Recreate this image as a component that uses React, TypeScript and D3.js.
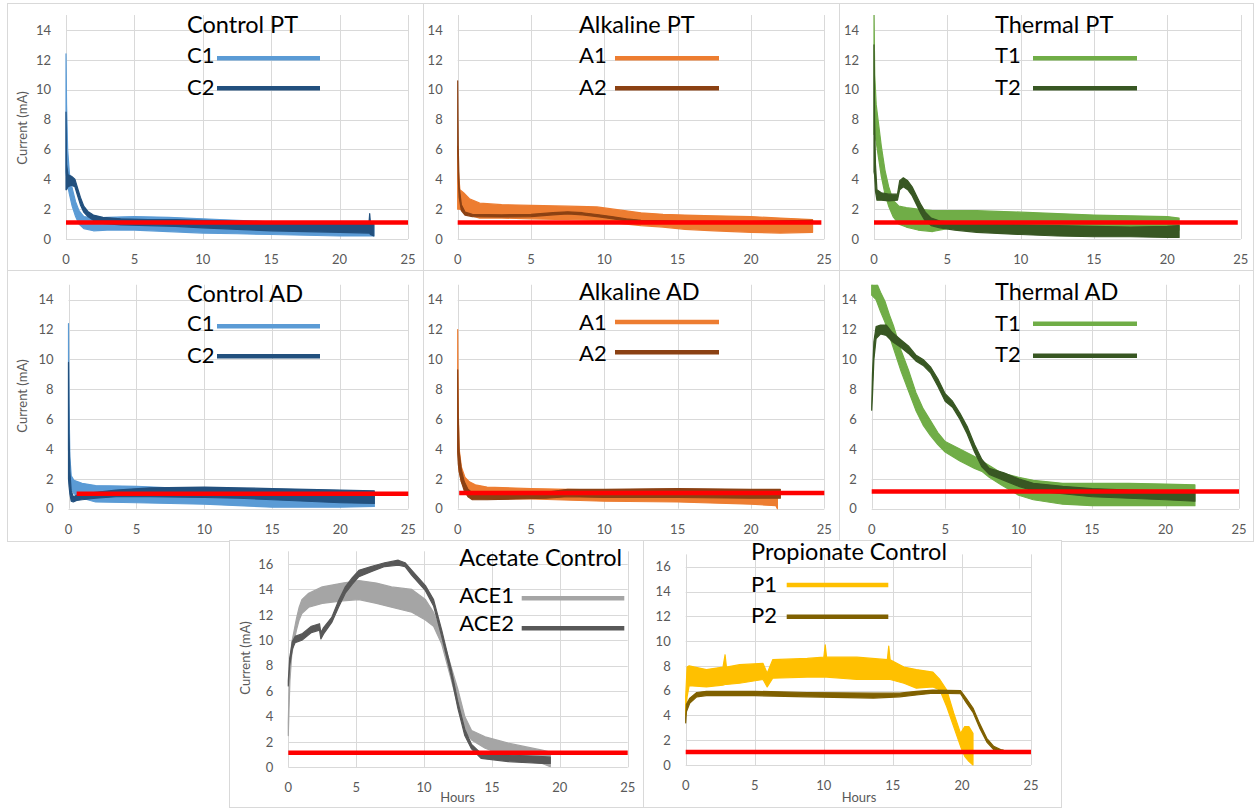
import React from 'react';
import * as d3 from 'd3';

// ---------- tick labels ----------
const hourTicks = [0, 5, 10, 15, 20, 25];
const currentTicks15 = [0, 2, 4, 6, 8, 10, 12, 14];
const currentTicks17 = [0, 2, 4, 6, 8, 10, 12, 14, 16];

// ---------- titles & legend ----------
const panelTitles = ['Control PT', 'Alkaline PT', 'Thermal PT', 'Control AD', 'Alkaline AD', 'Thermal AD', 'Acetate Control', 'Propionate  Control'];
const seriesNames = [['C1', 'C2'], ['A1', 'A2'], ['T1', 'T2'], ['C1', 'C2'], ['A1', 'A2'], ['T1', 'T2'], ['ACE1', 'ACE2'], ['P1', 'P2']];

// ---------- threshold (red line) ----------
const thresholdLevel = [1.1, 1.1, 1.1, 1.0, 1.05, 1.15, 1.15, 1.05];
const thresholdStart = [0, 0, 0, 0.6, 0.1, 0, 0, 0];
const thresholdEnd = [25, 24.8, 24.8, 25, 25, 25, 25, 25];

// ---------- series: [hours, low, high] envelope of the noisy current trace (mA) ----------
const controlPT_C1 = [[0, 4.5, 12.4], [0.04, 4.2, 9.0], [0.12, 3.6, 6.0], [0.25, 3.0, 4.4], [0.45, 2.2, 3.4], [0.7, 1.5, 2.5], [0.95, 1.0, 1.9], [1.3, 0.7, 1.5], [2, 0.55, 1.4], [3, 0.6, 1.45], [5, 0.6, 1.5], [7.5, 0.5, 1.45], [10, 0.4, 1.35], [12.5, 0.35, 1.25], [15, 0.3, 1.15], [17.5, 0.25, 1.05], [20, 0.2, 1.0], [22.5, 0.2, 0.95]];
const controlPT_C2 = [[0, 3.3, 8.5], [0.04, 3.3, 5.0], [0.15, 3.5, 4.3], [0.4, 3.6, 4.2], [0.65, 3.5, 4.0], [0.85, 2.9, 3.4], [1.05, 2.3, 2.8], [1.3, 1.8, 2.2], [1.6, 1.5, 1.85], [2.0, 1.25, 1.6], [2.7, 1.05, 1.45], [4, 0.95, 1.35], [6, 0.9, 1.3], [8, 0.85, 1.3], [10, 0.75, 1.25], [12.5, 0.65, 1.2], [15, 0.55, 1.15], [17.5, 0.5, 1.1], [20, 0.45, 1.1], [22.15, 0.4, 1.1], [22.2, 0.4, 1.7], [22.25, 0.3, 1.1], [22.5, 0.2, 1.0]];

const alkalinePT_A1 = [[0, 2.0, 6.2], [0.05, 2.0, 4.5], [0.15, 2.0, 3.3], [0.4, 1.9, 3.1], [0.8, 1.6, 2.7], [1.5, 1.4, 2.4], [3, 1.4, 2.3], [5, 1.35, 2.25], [7.5, 1.3, 2.2], [9.5, 1.25, 2.15], [11, 1.05, 1.95], [12.5, 0.9, 1.75], [14, 0.8, 1.65], [15.5, 0.65, 1.6], [17.5, 0.55, 1.55], [20, 0.45, 1.5], [22, 0.4, 1.4], [24.2, 0.45, 1.3]];
const alkalinePT_A2 = [[0, 6, 10.6], [0.04, 4.0, 6], [0.1, 2.8, 3.5], [0.25, 1.9, 2.3], [0.5, 1.6, 1.8], [1, 1.5, 1.65], [3, 1.48, 1.62], [5, 1.5, 1.65], [6.5, 1.62, 1.76], [7.5, 1.68, 1.82], [8.5, 1.62, 1.76], [9.5, 1.5, 1.64], [10.5, 1.36, 1.5], [11.5, 1.22, 1.35], [12.5, 1.13, 1.25], [15, 1.08, 1.2], [20, 1.05, 1.18], [24.2, 1.1, 1.25]];

const thermalPT_T1 = [[0, 7, 15], [0.05, 7, 11], [0.15, 6.5, 9], [0.3, 5.5, 7.8], [0.5, 4.2, 6.2], [0.75, 3.0, 4.6], [1.0, 2.2, 3.5], [1.3, 1.5, 2.6], [1.7, 1.0, 2.2], [2.2, 0.8, 2.1], [3, 0.6, 2.0], [4, 0.5, 1.9], [5, 0.7, 1.9], [7, 0.8, 1.9], [10, 0.8, 1.8], [12.5, 0.75, 1.7], [15, 0.7, 1.6], [17.5, 0.7, 1.55], [20, 0.65, 1.5], [20.8, 0.6, 1.4]];
const thermalPT_T2 = [[0, 4.5, 13], [0.04, 4.3, 8], [0.1, 3.2, 5], [0.2, 2.6, 3.3], [0.5, 2.6, 3.1], [1.0, 2.55, 3.0], [1.6, 2.6, 3.0], [1.75, 3.3, 3.9], [2.0, 3.5, 4.1], [2.3, 3.3, 3.9], [2.6, 2.9, 3.5], [2.9, 2.3, 2.9], [3.2, 1.7, 2.3], [3.5, 1.2, 1.8], [3.9, 0.9, 1.4], [4.5, 0.75, 1.2], [5.5, 0.6, 1.1], [7, 0.45, 1.05], [10, 0.3, 0.95], [12.5, 0.2, 0.9], [15, 0.15, 0.85], [17.5, 0.15, 0.8], [20, 0.1, 0.85], [20.8, 0.1, 0.9]];

const controlAD_C1 = [[0, 4, 12.4], [0.04, 3, 7], [0.1, 2.0, 3.5], [0.2, 1.3, 2.2], [0.4, 1.0, 1.9], [1, 0.7, 1.7], [2, 0.45, 1.55], [5, 0.4, 1.5], [7.5, 0.35, 1.4], [10, 0.3, 1.35], [12.5, 0.2, 1.2], [15, 0.1, 1.1], [17.5, 0.1, 1.05], [20, 0.1, 1.0], [22.5, 0.15, 0.95]];
const controlAD_C2 = [[0, 2, 9.8], [0.04, 1.5, 5], [0.1, 1.0, 2.5], [0.2, 0.5, 1.2], [0.35, 0.45, 0.8], [0.6, 0.55, 0.9], [1, 0.6, 1.0], [2, 0.7, 1.1], [3.5, 0.8, 1.25], [6, 0.8, 1.4], [10, 0.75, 1.45], [12.5, 0.7, 1.4], [15, 0.6, 1.35], [17.5, 0.5, 1.3], [20, 0.4, 1.25], [22.5, 0.35, 1.2]];

const alkalineAD_A1 = [[0, 4, 12], [0.04, 3.5, 6.5], [0.1, 2.5, 4], [0.25, 1.8, 2.8], [0.5, 1.3, 2.1], [0.8, 0.9, 1.8], [1.2, 0.7, 1.6], [2, 0.65, 1.45], [5, 0.65, 1.35], [10, 0.5, 1.25], [15, 0.45, 1.2], [20, 0.3, 1.1], [21.7, 0.2, 1.05], [21.8, 0, 0.9]];
const alkalineAD_A2 = [[0, 3.8, 9.3], [0.04, 3, 6], [0.1, 2.5, 3.8], [0.25, 1.8, 2.6], [0.45, 1.2, 1.8], [0.7, 0.8, 1.3], [1, 0.6, 1.05], [2, 0.6, 0.95], [4, 0.65, 1.0], [6, 0.7, 1.1], [7.5, 0.8, 1.3], [10, 0.75, 1.3], [15, 0.75, 1.35], [20, 0.7, 1.3], [22, 0.7, 1.3]];

const thermalAD_T1 = [[0, 14.3, 15.4], [0.3, 14, 15.2], [0.6, 13.2, 14.5], [0.9, 12.5, 13.9], [1.2, 11.6, 13.0], [1.5, 10.7, 12.2], [2, 9.2, 10.6], [2.5, 7.9, 9.3], [3, 6.6, 7.8], [3.5, 5.6, 6.7], [4, 4.9, 5.9], [4.5, 4.3, 5.1], [5, 3.8, 4.5], [6, 3.2, 4.0], [7, 2.7, 3.5], [7.5, 2.5, 3.2], [8, 2.1, 2.9], [8.8, 1.6, 2.4], [10, 0.9, 2.1], [11, 0.6, 1.9], [13, 0.3, 1.7], [15, 0.2, 1.7], [17.5, 0.2, 1.7], [20, 0.2, 1.65], [22, 0.2, 1.6]];
const thermalAD_T2 = [[0, 6.6, 6.8], [0.05, 7.5, 9], [0.15, 10.0, 11.2], [0.3, 11.4, 12.2], [0.6, 11.7, 12.3], [1.0, 11.6, 12.3], [1.4, 11.2, 11.8], [2, 10.8, 11.3], [2.5, 10.4, 10.9], [3, 9.9, 10.3], [3.5, 9.6, 10.0], [4, 9.1, 9.5], [4.5, 8.2, 8.7], [5, 7.2, 7.7], [5.5, 6.8, 7.2], [6, 6.0, 6.4], [6.5, 5.0, 5.5], [7, 3.8, 4.3], [7.5, 2.8, 3.3], [8, 2.3, 2.7], [9, 1.9, 2.4], [10, 1.5, 2.0], [11, 1.2, 1.7], [13, 1.0, 1.5], [15, 0.8, 1.35], [17.5, 0.7, 1.25], [20, 0.6, 1.2], [22, 0.5, 1.15]];

const acetate_ACE1 = [[0, 2.5, 3.5], [0.05, 4.5, 6], [0.12, 6.8, 8.0], [0.25, 8.8, 9.8], [0.4, 9.8, 10.6], [0.6, 10.8, 11.7], [0.8, 11.6, 12.6], [1.0, 12.1, 13.2], [1.5, 12.6, 13.7], [2.5, 12.9, 14.2], [4, 13.1, 14.5], [5.2, 13.2, 14.7], [6.5, 12.9, 14.5], [7.6, 12.6, 14.2], [9.1, 12.2, 14.0], [10.1, 11.6, 13.2], [10.7, 11.1, 12.2], [11.3, 9.7, 10.4], [12.0, 6.9, 7.9], [12.5, 4.8, 6.1], [13.0, 2.9, 4.0], [13.5, 2.15, 2.9], [14.5, 1.5, 2.4], [16.2, 0.8, 1.9], [18.7, 0.3, 1.35], [19.3, 0.05, 1.2]];
const acetate_ACE2 = [[0, 6.4, 6.8], [0.1, 8.0, 8.6], [0.3, 9.3, 9.9], [0.5, 9.8, 10.3], [1.0, 10.0, 10.5], [1.7, 10.6, 11.1], [2.3, 10.8, 11.3], [2.4, 10.1, 10.6], [2.6, 10.5, 11.0], [3.2, 11.4, 11.8], [3.7, 12.6, 13.1], [4.2, 13.7, 14.2], [4.7, 14.4, 14.9], [5.2, 15.0, 15.5], [6.1, 15.4, 15.8], [7.1, 15.8, 16.1], [8.1, 15.9, 16.3], [8.6, 15.8, 16.1], [9.1, 15.1, 15.5], [10.1, 13.9, 14.3], [10.7, 12.7, 13.2], [11.3, 10.3, 10.8], [12.0, 7.2, 7.7], [12.5, 4.6, 5.1], [13.0, 2.5, 3.0], [13.5, 1.45, 1.8], [14.2, 0.7, 1.1], [16.2, 0.45, 0.97], [18.7, 0.3, 0.85], [19.3, 0.3, 0.8]];

const propionate_P1 = [[0, 4.0, 5.5], [0.1, 5.5, 7.9], [0.25, 6.4, 8.0], [1.5, 6.3, 7.7], [2.7, 6.45, 7.9], [2.85, 6.5, 8.9], [2.95, 6.5, 7.9], [3.9, 6.6, 8.1], [5.6, 6.9, 8.2], [5.9, 6.3, 7.4], [6.3, 7.0, 8.5], [8.8, 7.1, 8.6], [10.0, 7.1, 8.7], [10.1, 7.1, 9.7], [10.2, 7.1, 8.7], [12.4, 6.9, 8.7], [14.6, 6.9, 8.5], [14.7, 6.9, 9.6], [14.8, 6.9, 8.5], [15.8, 6.6, 7.9], [16.7, 6.2, 7.7], [17.9, 6.3, 7.5], [18.4, 6.05, 6.9], [18.9, 4.7, 6.05], [19.4, 3.1, 4.2], [19.9, 1.5, 2.55], [20.2, 0.7, 3.1], [20.5, 0.3, 3.1], [20.8, 0, 2.55]];
const propionate_P2 = [[0, 3.4, 3.8], [0.05, 4.3, 4.9], [0.3, 5.0, 5.4], [0.8, 5.5, 5.85], [1.5, 5.6, 5.95], [5, 5.6, 5.95], [8.8, 5.5, 5.85], [13.6, 5.4, 5.8], [15.5, 5.5, 5.8], [16.7, 5.65, 5.95], [17.9, 5.8, 6.05], [19.9, 5.75, 6.0], [20.3, 5.05, 5.4], [20.8, 4.25, 4.6], [21.3, 2.95, 3.3], [21.8, 1.85, 2.15], [22.3, 1.25, 1.5], [22.8, 1.05, 1.25], [23, 1.0, 1.2]];

const panelSeries = [
  [controlPT_C1, controlPT_C2],
  [alkalinePT_A1, alkalinePT_A2],
  [thermalPT_T1, thermalPT_T2],
  [controlAD_C1, controlAD_C2],
  [alkalineAD_A1, alkalineAD_A2],
  [thermalAD_T1, thermalAD_T2],
  [acetate_ACE1, acetate_ACE2],
  [propionate_P1, propionate_P2],
];

// ---------- styles ----------
const seriesColors = [
  ['#5B9BD5', '#22507E'],
  ['#ED7D31', '#8B4113'],
  ['#70AD47', '#385723'],
  ['#5B9BD5', '#22507E'],
  ['#ED7D31', '#8B4113'],
  ['#70AD47', '#385723'],
  ['#A5A5A5', '#585858'],
  ['#FFC000', '#7F6000'],
];

// ---------- layout ----------
type Layout = {
  frame: [number, number, number, number];
  px0: number; px1: number; py0: number; unit: number; yMax: number; ticks: number[];
  yLabel?: [number, number]; xLabel?: [number, number];
  titleX: number; titleY: number;
  legBase: [number, number]; lineX: [number, number]; lineY: [number, number];
};

const layouts: Layout[] = [
  { frame: [7, 3, 423, 270], px0: 66, px1: 408, py0: 239, unit: 14.93, yMax: 15, ticks: currentTicks15, yLabel: [22.5, 128], titleX: 187, titleY: 33.3, legBase: [63, 95], lineX: [217, 320], lineY: [58.3, 88.3] },
  { frame: [423, 3, 839, 270], px0: 457.7, px1: 824.3, py0: 239, unit: 14.93, yMax: 15, ticks: currentTicks15, titleX: 579, titleY: 33.3, legBase: [63, 95], lineX: [615, 719], lineY: [58.3, 88.3] },
  { frame: [839, 3, 1253, 270], px0: 874, px1: 1240.7, py0: 239, unit: 14.93, yMax: 15, ticks: currentTicks15, titleX: 995, titleY: 33.3, legBase: [63, 95], lineX: [1033, 1137], lineY: [58.3, 88.3] },
  { frame: [7, 270, 423, 541], px0: 68.5, px1: 408.3, py0: 508.7, unit: 14.93, yMax: 15, ticks: currentTicks15, yLabel: [22.5, 396], titleX: 187, titleY: 301.5, legBase: [331.3, 363], lineX: [217, 320], lineY: [326.3, 356.3] },
  { frame: [423, 270, 839, 541], px0: 457.7, px1: 824.3, py0: 508.7, unit: 14.93, yMax: 15, ticks: currentTicks15, titleX: 579, titleY: 300, legBase: [329.7, 361.3], lineX: [615, 719], lineY: [322, 352.3] },
  { frame: [839, 270, 1253, 541], px0: 871.7, px1: 1239, py0: 508.7, unit: 14.93, yMax: 15, ticks: currentTicks15, titleX: 995, titleY: 300, legBase: [331.3, 362.3], lineX: [1033, 1137], lineY: [323.7, 355.7] },
  { frame: [229, 540, 643, 807], px0: 288.3, px1: 627.7, py0: 767.3, unit: 12.706, yMax: 17, ticks: currentTicks17, yLabel: [245, 658], xLabel: [457.5, 801.5], titleX: 459.3, titleY: 566, legBase: [603, 630.5], lineX: [521.7, 624.3], lineY: [598.3, 628.3] },
  { frame: [643, 540, 1061, 807], px0: 685.7, px1: 1031, py0: 765, unit: 12.39, yMax: 17, ticks: currentTicks17, xLabel: [859, 801.5], titleX: 751, titleY: 560, legBase: [591.7, 623.3], lineX: [786.7, 888.3], lineY: [585, 616.7] },
];

const FONT = 'Lato, "Open Sans", "Liberation Sans", sans-serif';
const GRID = '#d9d9d9';
const TICK = '#595959';

function Panel({ i }: { i: number }) {
  const L = layouts[i];
  const x = d3.scaleLinear().domain([0, 25]).range([L.px0, L.px1]);
  const y = d3.scaleLinear().domain([0, L.yMax]).range([L.py0, L.py0 - L.yMax * L.unit]);
  const area = d3.area<number[]>().x(d => x(d[0])).y0(d => y(d[1])).y1(d => y(d[2]));
  const [fx0, fy0, fx1, fy1] = L.frame;
  const clipId = `clip-${i}`;
  return (
    <g>
      <rect x={fx0 + 0.5} y={fy0 + 0.5} width={fx1 - fx0} height={fy1 - fy0} fill="#fff" stroke={GRID} strokeWidth={1} />
      <defs>
        <clipPath id={clipId}>
          <rect x={x(0) - 2} y={y(L.yMax)} width={x(25) - x(0) + 4} height={y(0) - y(L.yMax) + 2} />
        </clipPath>
      </defs>
      {L.ticks.map(t => (
        <line key={'h' + t} x1={x(0)} x2={x(25)} y1={Math.round(y(t)) + 0.5} y2={Math.round(y(t)) + 0.5} stroke={GRID} strokeWidth={1} />
      ))}
      {hourTicks.map(t => (
        <line key={'v' + t} x1={Math.round(x(t)) + 0.5} x2={Math.round(x(t)) + 0.5} y1={y(L.yMax)} y2={y(0)} stroke={GRID} strokeWidth={1} />
      ))}
      {L.ticks.map(t => (
        <text key={'yl' + t} x={x(0) - 15} y={y(t)} dy="0.36em" textAnchor="end" fontSize={13} fill={TICK} fontFamily={FONT}>{t}</text>
      ))}
      {hourTicks.map(t => (
        <text key={'xl' + t} x={x(t)} y={y(0) + 25} textAnchor="middle" fontSize={13} fill={TICK} fontFamily={FONT}>{t}</text>
      ))}
      {L.yLabel && (
        <text transform={`translate(${L.yLabel[0]},${L.yLabel[1]}) rotate(-90)`} textAnchor="middle" dy="0.35em" fontSize={13} fill={TICK} fontFamily={FONT}>Current (mA)</text>
      )}
      {L.xLabel && (
        <text x={L.xLabel[0]} y={L.xLabel[1]} textAnchor="middle" fontSize={13} fill={TICK} fontFamily={FONT}>Hours</text>
      )}
      <g clipPath={`url(#${clipId})`}>
        {panelSeries[i].map((s, k) => (
          <path key={'s' + k} d={area(s as number[][]) || ''} fill={seriesColors[i][k]} stroke={seriesColors[i][k]} strokeWidth={1.2} strokeLinejoin="round" />
        ))}
        <line x1={x(thresholdStart[i])} x2={x(thresholdEnd[i])} y1={y(thresholdLevel[i])} y2={y(thresholdLevel[i])} stroke="#FF0000" strokeWidth={4.5} />
      </g>
      <text x={L.titleX} y={L.titleY} fontSize={23.5} fill="#000" fontFamily={FONT}>{panelTitles[i]}</text>
      {seriesNames[i].map((n, k) => (
        <g key={'lg' + k}>
          <text x={L.titleX} y={L.legBase[k]} fontSize={22} fill="#000" fontFamily={FONT}>{n}</text>
          <line x1={L.lineX[0]} x2={L.lineX[1]} y1={L.lineY[k]} y2={L.lineY[k]} stroke={seriesColors[i][k]} strokeWidth={4.5} />
        </g>
      ))}
    </g>
  );
}

export default function App() {
  return (
    <svg width={1254} height={809} style={{ position: 'absolute', left: 0, top: 0, background: '#fff' }} xmlns="http://www.w3.org/2000/svg">
      <rect x={0} y={0} width={1254} height={809} fill="#fff" />
      {layouts.map((_, i) => <Panel key={i} i={i} />)}
    </svg>
  );
}
